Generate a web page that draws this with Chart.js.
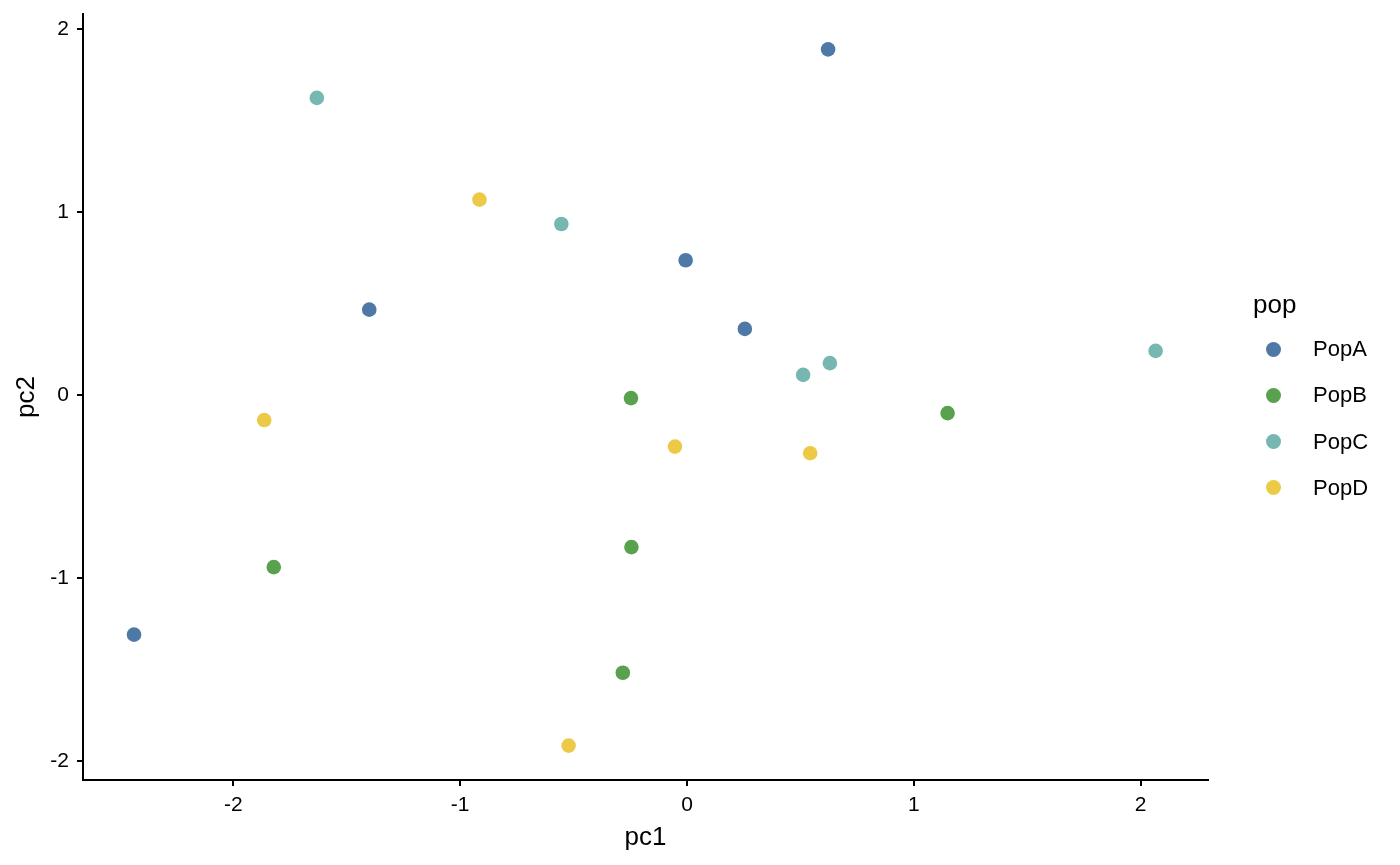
<!DOCTYPE html>
<html>
<head>
<meta charset="utf-8">
<script src="https://cdn.jsdelivr.net/npm/chart.js@4/dist/chart.umd.min.js"></script>
<style>
  html, body { margin: 0; padding: 0; background: #fff; }
  #wrap { position: relative; width: 1400px; height: 865px; font-family: "Liberation Sans", Arial, sans-serif; }
  #chart { position: absolute; left: 0; top: 0; }
  #legendTitle { position: absolute; left: 1253px; top: 291px; font-size: 26px; line-height: 26px; color: #000; }
  .leg-row { position: absolute; left: 1266px; height: 22px; display: flex; align-items: center; }
  .leg-dot { width: 15px; height: 15px; border-radius: 50%; }
  .leg-txt { margin-left: 32px; font-size: 22px; line-height: 22px; color: #000; }
</style>
</head>
<body>
<div id="wrap">
  <canvas id="chart" width="1400" height="865"></canvas>
  <div id="legendTitle">pop</div>
  <div id="legend"></div>
</div>
<script>
// ─── DATA ──────────────────────────────────────────────────
const pops   = ['PopA', 'PopB', 'PopC', 'PopD'];
const COLOURS = ['#4E79A7', '#59A14F', '#76B7B2', '#EDC948'];

const popA_pc1 = [0.622, -0.006, -1.401, 0.255, -2.438];
const popA_pc2 = [1.889, 0.737, 0.467, 0.362, -1.308];

const popB_pc1 = [-0.247, 1.149, -0.245, -1.822, -0.283];
const popB_pc2 = [-0.016, -0.098, -0.830, -0.939, -1.516];

const popC_pc1 = [-1.632, -0.554, 0.630, 0.512, 2.066];
const popC_pc2 = [1.624, 0.935, 0.175, 0.111, 0.242];

const popD_pc1 = [-0.915, -1.864, -0.053, 0.543, -0.522];
const popD_pc2 = [1.068, -0.136, -0.281, -0.317, -1.914];

const xTicks = [-2, -1, 0, 1, 2];
const yTicks = [-2, -1, 0, 1, 2];

// ─── CHART ─────────────────────────────────────────────────
const FONT = '"Liberation Sans", Arial, sans-serif';
const series = [
  [popA_pc1, popA_pc2],
  [popB_pc1, popB_pc2],
  [popC_pc1, popC_pc2],
  [popD_pc1, popD_pc2],
];

const datasets = series.map(([xs, ys], i) => ({
  label: pops[i],
  data: xs.map((x, j) => ({ x, y: ys[j] })),
  backgroundColor: COLOURS[i],
  borderWidth: 0,
  pointRadius: 7.3,
  pointHoverRadius: 7.3,
}));

function keepTicks(list) {
  return scale => { scale.ticks = list.map(v => ({ value: v })); };
}

const axisCommon = {
  type: 'linear',
  grid: { display: true, drawOnChartArea: false, drawTicks: true, tickLength: 6, lineWidth: 2, color: '#000' },
  border: { display: true, color: '#000', width: 2 },
};

new Chart(document.getElementById('chart'), {
  type: 'scatter',
  data: { datasets },
  options: {
    responsive: false,
    animation: false,
    layout: { padding: { top: 14, right: 192, left: 0, bottom: 0 } },
    plugins: { legend: { display: false }, tooltip: { enabled: false } },
    scales: {
      x: {
        ...axisCommon,
        position: 'bottom',
        min: -2.663, max: 2.297,
        afterBuildTicks: keepTicks(xTicks),
        afterFit: s => { s.height = 85; s.paddingLeft = 0; s.paddingRight = 0; },
        ticks: { color: '#000', padding: 7, font: { family: FONT, size: 21 }, maxRotation: 0 },
        title: { display: true, text: 'pc1', color: '#000', font: { family: FONT, size: 26 }, padding: { top: 0, bottom: 12 } },
      },
      y: {
        ...axisCommon,
        position: 'left',
        min: -2.102, max: 2.082,
        afterBuildTicks: keepTicks(yTicks),
        afterFit: s => { s.width = 83; s.paddingTop = 0; s.paddingBottom = 0; },
        ticks: { color: '#000', padding: 8, font: { family: FONT, size: 21 } },
        title: { display: true, text: 'pc2', color: '#000', font: { family: FONT, size: 26 }, padding: { top: 11, bottom: 0 } },
      },
    },
  },
});

// ─── LEGEND ────────────────────────────────────────────────
const legend = document.getElementById('legend');
legend.innerHTML = pops.map((p, i) => `
  <div class="leg-row" style="top:${338 + i * 46.3}px;">
    <span class="leg-dot" style="background:${COLOURS[i]};"></span><span class="leg-txt">${p}</span>
  </div>`).join('');
</script>
</body>
</html>
